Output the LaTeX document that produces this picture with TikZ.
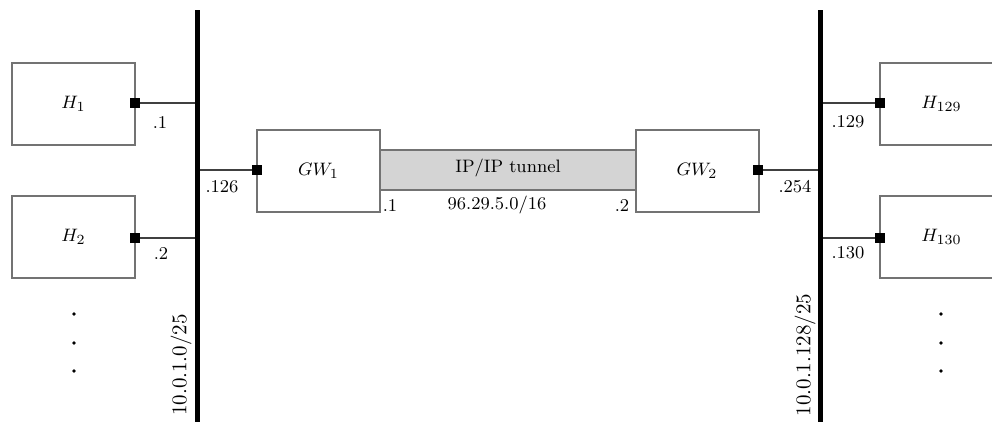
\documentclass[tikz,border=0pt]{standalone}
\begin{document}
\begin{tikzpicture}[x=0.5pt,y=-0.5pt,
  box/.style={draw=black!55,line width=1pt,fill=white,minimum width=61.5pt,minimum height=41pt,inner sep=0pt,font=\fontsize{9.5}{11}\selectfont},
  port/.style={fill=black,minimum size=5pt,inner sep=0pt},
  conn/.style={draw=black!75,line width=0.7pt},
  bus/.style={line width=2.5pt,line cap=butt},
  lbl/.style={font=\fontsize{9}{11}\selectfont,inner sep=0pt},
  netl/.style={font=\fontsize{10.5}{12}\selectfont,inner sep=0pt,rotate=90},
  dotc/.style={circle,fill=black,minimum size=1.8pt,inner sep=0pt}]
\useasboundingbox (0,0) rectangle (992,425);
\clip (0,0) rectangle (992,425);
% buses
\coordinate (b1t) at (197,10); \coordinate (b1b) at (197,422);
\coordinate (b2t) at (820,10); \coordinate (b2b) at (820,422);
% tunnel
\node[draw=black!55,line width=1pt,fill=black!17,minimum width=128pt,minimum height=20pt,inner sep=0pt] (tun) at (508,170) {};
\node[lbl] (tunl) at (508,168) {IP/IP tunnel};
% boxes
\node[box] (h1) at (73.5,104) {$H_1$};
\node[box] (h2) at (73.5,237) {$H_2$};
\node[box] (gw1) at (318.5,170.5) {$GW_1$};
\node[box] (gw2) at (697,170.5) {$GW_2$};
\node[box] (h129) at (941.5,104) {$H_{129}$};
\node[box] (h130) at (941.5,237) {$H_{130}$};
% ports
\node[port] (p1) at (135,103) {};
\node[port] (p2) at (135,238) {};
\node[port] (pg1) at (257,170) {};
\node[port] (pg2) at (758,170) {};
\node[port] (p129) at (880,103) {};
\node[port] (p130) at (880,238) {};
% connectors
\draw[conn] (p1) -- (p1 -| b1t);
\draw[conn] (p2) -- (p2 -| b1t);
\draw[conn] (pg1) -- (pg1 -| b1t);
\draw[conn] (pg2) -- (pg2 -| b2t);
\draw[conn] (p129) -- (p129 -| b2t);
\draw[conn] (p130) -- (p130 -| b2t);
\draw[bus] (b1t) -- (b1b);
\draw[bus] (b2t) -- (b2b);
% labels
\node[lbl] (l1) at (160,122) {.1};
\node[lbl] (l2) at (161,253) {.2};
\node[lbl] (l126) at (222,187) {.126};
\node[lbl] (lt1) at (390,205) {.1};
\node[lbl] (lnet) at (497,205) {96.29.5.0/16};
\node[lbl] (lt2) at (622,205) {.2};
\node[lbl] (l254) at (795,187) {.254};
\node[lbl] (l129) at (848,122) {.129};
\node[lbl] (l130) at (848,253) {.130};
\node[netl] (n1) at (181,365) {10.0.1.0/25};
\node[netl] (n2) at (805,355) {10.0.1.128/25};
% dots
\foreach \y [count=\i] in {314,343,371}{
  \node[dotc] (dl\i) at (74,\y) {};
  \node[dotc] (dr\i) at (941,\y) {};
}
\end{tikzpicture}
\end{document}
